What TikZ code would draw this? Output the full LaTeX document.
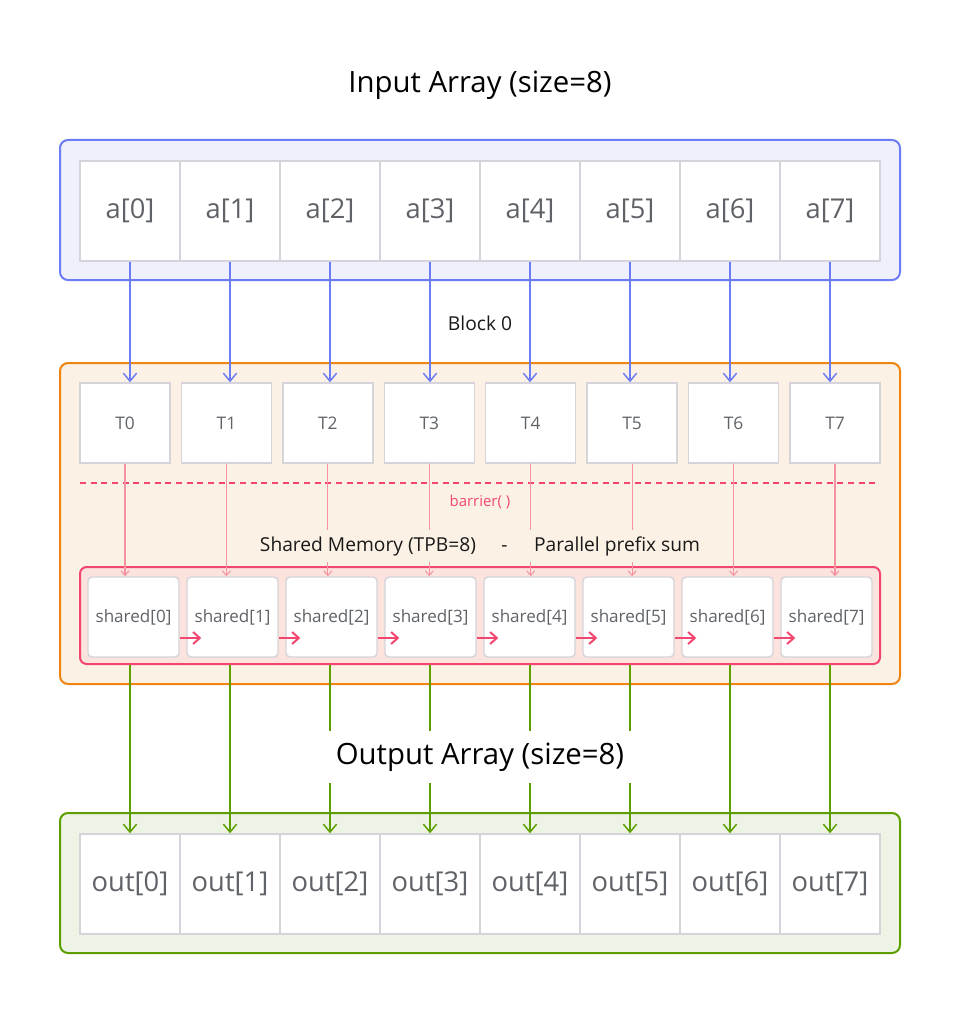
\documentclass[tikz,border=0pt]{standalone}
\usepackage{fontspec}
\setmainfont{Open Sans}
\usetikzlibrary{arrows.meta,calc}
\definecolor{bluel}{HTML}{6B7CF6}
\definecolor{bluef}{HTML}{EEF0FC}
\definecolor{orl}{HTML}{EE8510}
\definecolor{orf}{HTML}{FCF1E5}
\definecolor{grl}{HTML}{5E9F00}
\definecolor{grf}{HTML}{EDF3E5}
\definecolor{pkl}{HTML}{F2466F}
\definecolor{pkthin}{HTML}{F5949F}
\definecolor{pkf}{HTML}{FCE3DD}
\definecolor{cellb}{HTML}{D4D4DA}
\definecolor{txtg}{HTML}{5F6368}
\begin{document}
\begin{tikzpicture}[x=0.75pt,y=-0.75pt,
  container/.style={draw, line width=1.5pt, rounded corners=6pt, minimum width=630pt, minimum height=105pt, inner sep=0pt},
  cellbox/.style={draw=cellb, fill=white, line width=1.1pt, minimum width=75pt, minimum height=75pt, inner sep=0pt, text=txtg, font=\fontsize{20.5}{23}\selectfont},
  thbox/.style={draw=cellb, fill=white, line width=1.1pt, minimum width=67.5pt, minimum height=60pt, inner sep=0pt, text=txtg, font=\fontsize{13}{15}\selectfont},
  shbox/.style={draw=cellb, fill=white, line width=1.1pt, rounded corners=3pt, minimum width=68.25pt, minimum height=60pt, inner sep=0pt, text=txtg, font=\fontsize{12.8}{15}\selectfont},
  title/.style={font=\fontsize{22}{25}\selectfont, text=black},
  barrow/.style={draw=bluel, line width=1.1pt, -{Straight Barb[length=6pt,width=10pt,line width=1.1pt]}},
  garrow/.style={draw=grl, line width=1.1pt, -{Straight Barb[length=6pt,width=10pt,line width=1.1pt]}},
  parrow/.style={draw=pkthin, line width=0.9pt, -{Straight Barb[length=3.5pt,width=6pt,line width=0.8pt]}},
  rarrow/.style={draw=pkl, line width=1.5pt, -{Straight Barb[length=5pt,width=9pt,line width=1.5pt]}},
]
\useasboundingbox[fill=white] (0,0) rectangle (960,1013);

% titles
\node[title] (tin) at (480,85) {Input Array (size=8)};

% containers
\node[container, draw=bluel, fill=bluef] (inbox) at (480,210) {};
\node[container, draw=orl, fill=orf, minimum height=240.75pt] (blk) at (480,523.5) {};
\node[container, draw=grl, fill=grf] (outbox) at (480,883) {};
\node[draw=pkl, fill=pkf, line width=1.5pt, rounded corners=5pt, minimum width=600pt, minimum height=72.75pt, inner sep=0pt] (shc) at (480,615.5) {};

% cells
\foreach \i in {0,...,7} {
  \node[cellbox] (a\i) at ({130+100*\i},211) {a[\i]};
  \node[cellbox] (o\i) at ({130+100*\i},884) {out[\i]};
  \node[thbox] (T\i) at ({125+800/7*\i*0.8875},423) {T\i};
  \node[shbox] (S\i) at ({133.5+99*\i},617) {shared[\i]};
}

\node[font=\fontsize{14.4}{17}\selectfont, text=black!90] (blk0) at (480,323) {Block 0};

% barrier
\draw[pkl, line width=1.5pt, dash pattern=on 4.5pt off 3.5pt] (80,483) coordinate (bl) -- (880,483) coordinate (br);
\node[font=\fontsize{11.2}{13}\selectfont, text=pkl] (bar) at (480,502) {barrier( )};

% arrows
\foreach \i in {0,...,7} {
  \draw[barrow] (a\i.south) -- (a\i.south |- T\i.north);
  \draw[parrow] (T\i.south) -- (T\i.south |- S\i.north);
  \draw[garrow] (o\i.north |- shc.south) -- (o\i.north);
}
\foreach \i [count=\j from 1] in {0,...,6} {
  \draw[rarrow] ($(S\i.east)+(0,21)$) -- ($(S\j.west)+(15,21)$);
}

% labels with background
\node[fill=orf, inner xsep=0pt, inner ysep=5pt, font=\fontsize{14.4}{17}\selectfont, text=black!90] (shl) at (480,546) {Shared Memory (TPB=8)\hspace{19pt}-\hspace{20pt}Parallel prefix sum};
\node[title, fill=white, inner xsep=15pt, inner ysep=9pt] (tout) at (480,757) {Output Array (size=8)};
\end{tikzpicture}
\end{document}
